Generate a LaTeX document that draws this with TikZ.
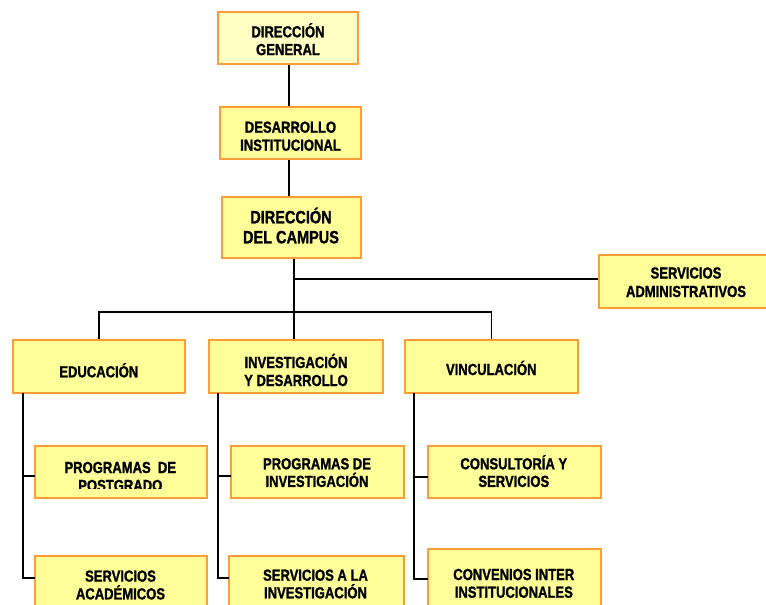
\documentclass[tikz,border=0pt]{standalone}
\usepackage{fontspec}
\setmainfont{Liberation Sans}[FakeStretch=0.815]
\newfontfamily\orgfont{Liberation Sans}[FakeStretch=0.815, FakeBold=1.2]
\definecolor{boxfill}{HTML}{FFFF99}
\definecolor{boxfilltop}{HTML}{FFFFC4}
\definecolor{boxline}{HTML}{FF9C3A}
\tikzset{
  orgbox/.style={draw=boxline, fill=boxfill, line width=1.6pt, inner sep=0pt},
  lbl/.style={anchor=base, inner sep=0pt, font=\orgfont\bfseries\fontsize{16}{18}\selectfont},
  biglbl/.style={lbl, font=\orgfont\bfseries\fontsize{17.8}{20}\selectfont},
  link/.style={draw=black, line width=1.3pt},
}
% box from corner (x1,y1) to corner (x2,y2)
\newcommand{\boxat}[6]{% name, x1, y1, x2, y2, options
  \node[#6, minimum width={(#4-#2)*1pt}, minimum height={(#5-#3)*1pt}]
    (#1) at ({(#2+#4)/2}, {(#3+#5)/2}) {};}
% one or two centred text lines set on given baselines
\newcommand{\oneline}[5]{% name, x, baseline, style, text
  \node[#4] (#1) at (#2,#3) {#5};}
\newcommand{\twolines}[7]{% name, x, baseline, gap, style, line 1, line 2
  \node[#5] (#1-a) at (#2,#3) {#6};
  \node[#5] (#1-b) at (#2,{#3+#4}) {#7};}
\begin{document}
\begin{tikzpicture}[x=1pt, y=-1pt]
\useasboundingbox (0,0) rectangle (766,605);
\clip (0,0) rectangle (766,605);

% top chain
\boxat{gen}{218}{12}{358}{64}{orgbox, fill=boxfilltop}
\twolines{gen-t}{288}{37.3}{17.8}{lbl}{DIRECCIÓN}{GENERAL}
\boxat{des}{220}{107}{361}{159}{orgbox}
\twolines{des-t}{290.5}{132.7}{18}{lbl}{DESARROLLO}{INSTITUCIONAL}
\boxat{cam}{222}{197}{361}{258}{orgbox}
\twolines{cam-t}{291}{223.3}{20}{biglbl}{DIRECCIÓN}{DEL CAMPUS}
\boxat{adm}{599}{255}{772}{308}{orgbox}
\twolines{adm-t}{686}{278.5}{18.5}{lbl}{SERVICIOS}{ADMINISTRATIVOS}

% second level
\boxat{edu}{13}{340}{185}{393}{orgbox}
\oneline{edu-t}{98.8}{377.3}{lbl}{EDUCACIÓN}
\boxat{inv}{209}{340}{383}{393}{orgbox}
\twolines{inv-t}{296}{368}{18}{lbl}{INVESTIGACIÓN}{Y DESARROLLO}
\boxat{vin}{405}{340}{578}{393}{orgbox}
\oneline{vin-t}{491.3}{375}{lbl}{VINCULACIÓN}

% third level
\boxat{pos}{35}{446}{207}{498}{orgbox}
\begin{scope}
  \clip (35,446) rectangle (207,488.5);
  \twolines{pos-t}{120.3}{473}{18}{lbl}{PROGRAMAS\ \ DE}{POSTGRADO}
\end{scope}
\boxat{aca}{35}{556}{207}{614}{orgbox}
\twolines{aca-t}{120.5}{581.6}{17.8}{lbl}{SERVICIOS}{ACADÉMICOS}
\boxat{pin}{231}{446}{404}{498}{orgbox}
\twolines{pin-t}{317}{469.3}{17.6}{lbl}{PROGRAMAS DE}{INVESTIGACIÓN}
\boxat{sin}{229}{556}{404}{612}{orgbox}
\twolines{sin-t}{315.5}{580.7}{17.6}{lbl}{SERVICIOS A LA}{INVESTIGACIÓN}
\boxat{con}{428}{446}{601}{498}{orgbox}
\twolines{con-t}{513.8}{469.3}{17.6}{lbl}{CONSULTORÍA Y}{SERVICIOS}
\boxat{cnv}{428}{549}{601}{617}{orgbox}
\twolines{cnv-t}{513.8}{580}{17.7}{lbl}{CONVENIOS INTER}{INSTITUCIONALES}

% junction points
\coordinate (gx) at (289,0);
\coordinate (bus) at (294,312);
\coordinate (admj) at (294,279);
\coordinate (eduL) at (23,393);
\coordinate (invL) at (218,393);
\coordinate (vinL) at (414,393);
\coordinate (posin) at (35,476);
\coordinate (acain) at (35,578);
\coordinate (pinin) at (231,476);
\coordinate (sinin) at (229,578);
\coordinate (conin) at (428,477);
\coordinate (cnvin) at (428,579);

% connectors
\draw[link] (gen.south -| gx) -- (des.north -| gx);
\draw[link] (des.south -| gx) -- (cam.north -| gx);
\draw[link] (cam.south -| bus) -- (bus);
\draw[link] (admj) -- (adm.west |- admj);
\draw[link] (edu.north) |- (bus) -| (vin.north);
\draw[link] (bus) -- (bus |- inv.north);
\draw[link] (eduL) |- (posin);
\draw[link] (eduL) |- (acain);
\draw[link] (invL) |- (pinin);
\draw[link] (invL) |- (sinin);
\draw[link] (vinL) |- (conin);
\draw[link] (vinL) |- (cnvin);
\end{tikzpicture}
\end{document}
